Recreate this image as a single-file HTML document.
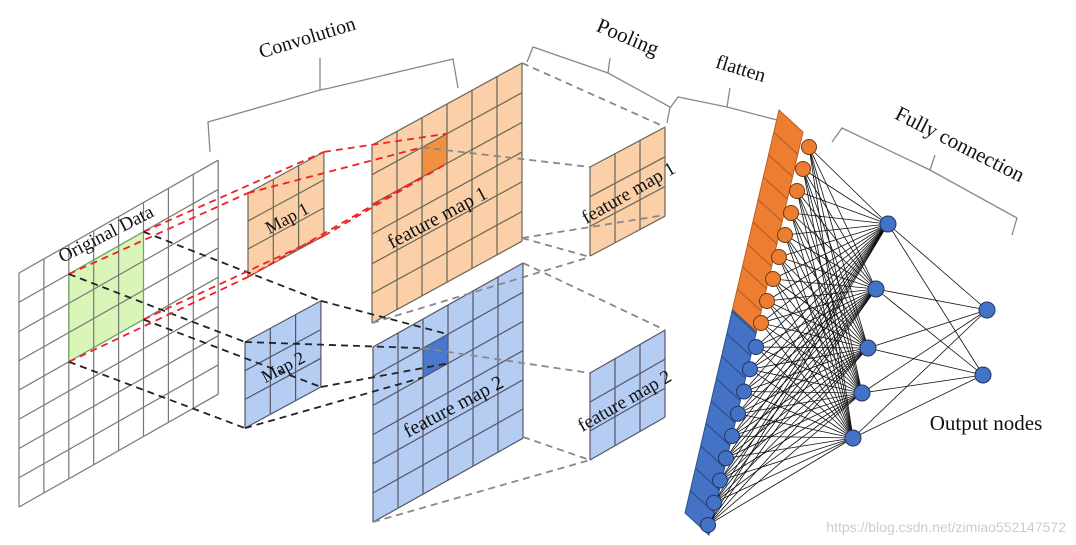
<!DOCTYPE html>
<html><head><meta charset="utf-8"><style>
html,body{margin:0;padding:0;background:#fff;}
svg{display:block;font-family:"Liberation Serif",serif;}
</style></head><body>
<svg id="s" width="1076" height="545" viewBox="0 0 1076 545" xmlns="http://www.w3.org/2000/svg">
<g id="shapes"></g>
<g fill="none" stroke="#888" stroke-width="1.3">
<polyline points="210,152 208,122 320,90 330,88 453,59 458,88"/>
<line x1="320" y1="90" x2="320" y2="58"/>
<polyline points="527,62 533,47 608,73 670,107 667,123"/>
<line x1="608" y1="73" x2="610" y2="58"/>
<polyline points="670,108 678,97 727,107 777,120"/>
<line x1="727" y1="107" x2="730" y2="88"/>
<polyline points="832,142 842,128 930,170 1017,218 1012,235"/>
<line x1="930" y1="170" x2="935" y2="155"/>
</g>
<g id="net"></g>
<g fill="#111" font-size="20">
<text x="307" y="44" text-anchor="middle" transform="rotate(-17 307 37)">Convolution</text>
<text x="628" y="44" text-anchor="middle" font-size="21" transform="rotate(23 628 37)">Pooling</text>
<text x="741" y="75" text-anchor="middle" transform="rotate(17 741 68)">flatten</text>
<text x="960" y="151" text-anchor="middle" font-size="21" transform="rotate(27 960 144)">Fully connection</text>
<text x="986" y="430" text-anchor="middle" font-size="21">Output nodes</text>
<text x="106" y="240" text-anchor="middle" font-size="19" transform="rotate(-27 106 234)">Original Data</text>
<text x="287" y="224" text-anchor="middle" font-size="18" transform="rotate(-28 287 218)">Map 1</text>
<text x="283" y="373" text-anchor="middle" font-size="18" transform="rotate(-28 283 367)">Map 2</text>
<text x="437" y="224" text-anchor="middle" transform="rotate(-28 437 217)">feature map 1</text>
<text x="453" y="413" text-anchor="middle" transform="rotate(-28 453 406)">feature map 2</text>
<text x="628" y="199" text-anchor="middle" font-size="19" transform="rotate(-30 628 192)">feature map 1</text>
<text x="624" y="407" text-anchor="middle" font-size="19" transform="rotate(-30 624 400)">feature map 2</text>
</g>
<text x="1066" y="532" text-anchor="end" font-family="Liberation Sans, sans-serif" font-size="14" fill="#ccc">https://blog.csdn.net/zimiao552147572</text>
</svg>
<script>
const NS="http://www.w3.org/2000/svg";
const G=document.getElementById("shapes"), N=document.getElementById("net");
function el(p,t,a){const e=document.createElementNS(NS,t);for(const k in a)e.setAttribute(k,a[k]);p.appendChild(e);return e;}
function P(tl,c,r,u,v){return [tl[0]+c[0]*u+r[0]*v, tl[1]+c[1]*u+r[1]*v];}
function grid(tl,c,r,nc,nr,fill,stroke,cells){
 const pts=[P(tl,c,r,0,0),P(tl,c,r,nc,0),P(tl,c,r,nc,nr),P(tl,c,r,0,nr)];
 el(G,"polygon",{points:pts.map(p=>p.join(",")).join(" "),fill:fill,stroke:"none"});
 (cells||[]).forEach(([u,v,f])=>{const q=[P(tl,c,r,u,v),P(tl,c,r,u+1,v),P(tl,c,r,u+1,v+1),P(tl,c,r,u,v+1)];
  el(G,"polygon",{points:q.map(p=>p.join(",")).join(" "),fill:f});});
 for(let i=0;i<=nc;i++){const a=P(tl,c,r,i,0),b=P(tl,c,r,i,nr);el(G,"line",{x1:a[0],y1:a[1],x2:b[0],y2:b[1],stroke:stroke,"stroke-width":1.2});}
 for(let j=0;j<=nr;j++){const a=P(tl,c,r,0,j),b=P(tl,c,r,nc,j);el(G,"line",{x1:a[0],y1:a[1],x2:b[0],y2:b[1],stroke:stroke,"stroke-width":1.2});}
}
function dash(a,b,col,w){el(G,"line",{x1:a[0],y1:a[1],x2:b[0],y2:b[1],stroke:col,"stroke-width":w||1.8,"stroke-dasharray":"7,5"});}
const oc=[24.9,-14.1], or=[0,29.25], O=[19,273];
const gc="#d9f5b8";
grid(O,oc,or,8,8,"#fff","#777",[[2,1,gc],[3,1,gc],[4,1,gc],[2,2,gc],[3,2,gc],[4,2,gc],[2,3,gc],[3,3,gc],[4,3,gc]]);
const g1=P(O,oc,or,2,1),g2=P(O,oc,or,5,1),g3=P(O,oc,or,2,4),g4=P(O,oc,or,5,4);
el(G,"polygon",{points:[g1,g2,g4,g3].map(p=>p.join(",")).join(" "),fill:"none",stroke:"#6a6","stroke-width":1});
const m1=[248,193],mc=[25.3,-13.7],mr=[0,28];
const m2=[245,342],m2r=[0,28.7];
const f1=[372,145],fc=[25,-13.67],fr=[0,29.7];
const f2=[373,347],f2c=[25,-14],f2r=[0,29.2];
grid(f1,fc,fr,6,6,"#fbd0a8","#665",[[2,1,"#f0913f"]]);
grid(f2,f2c,f2r,6,6,"#b6cdf3","#556",[[2,1,"#4a78cc"]]);
grid(m1,mc,mr,3,3,"#fbd0a8","#665");
grid(m2,mc,m2r,3,3,"#b6cdf3","#556");
grid([590,167],[25,-13.3],[0,29.7],3,3,"#fbd0a8","#665");
grid([590,373],[25,-14.3],[0,29],3,3,"#b6cdf3","#556");
const M1=[P(m1,mc,mr,0,0),P(m1,mc,mr,3,0),P(m1,mc,mr,0,3),P(m1,mc,mr,3,3)];
const M2=[P(m2,mc,m2r,0,0),P(m2,mc,m2r,3,0),P(m2,mc,m2r,0,3),P(m2,mc,m2r,3,3)];
const C1=[P(f1,fc,fr,2,1),P(f1,fc,fr,3,1),P(f1,fc,fr,2,2),P(f1,fc,fr,3,2)];
const C2=[P(f2,f2c,f2r,2,1),P(f2,f2c,f2r,3,1),P(f2,f2c,f2r,2,2),P(f2,f2c,f2r,3,2)];
[g1,g2,g3,g4].forEach((g,i)=>{dash(g,M1[i],"#e22");dash(g,M2[i],"#222");});
M1.forEach((m,i)=>dash(m,C1[i],"#e22"));
M2.forEach((m,i)=>dash(m,C2[i],"#222"));
const gr="#888";
dash([522,63],[665,127],gr);dash(C1[0],[590,167],gr);dash([522,238],[590,257],gr);dash([372,323],[590,257],gr);
dash([523,263],[665,330],gr);dash(C2[0],[590,373],gr);dash([523,437],[590,460],gr);dash([373,522],[590,460],gr);
dash([522,238],[665,215],gr);
const L0=[779,110],L1=[685,513],off=[24,22],t=0.496;
const Lm=[L0[0]+(L1[0]-L0[0])*t,L0[1]+(L1[1]-L0[1])*t];
const pt=p=>p.join(",");
const add=(p,q)=>[p[0]+q[0],p[1]+q[1]];
el(N,"polygon",{points:[L0,add(L0,off),add(Lm,off),Lm].map(pt).join(" "),fill:"#ed7d31",stroke:"#c0601f"});
el(N,"polygon",{points:[Lm,add(Lm,off),add(L1,off),L1].map(pt).join(" "),fill:"#4472c4",stroke:"#2f528f"});
for(let i=1;i<18;i++){const f=i/18;const a=[L0[0]+(L1[0]-L0[0])*f,L0[1]+(L1[1]-L0[1])*f];const b=add(a,off);
 el(N,"line",{x1:a[0],y1:a[1],x2:b[0],y2:b[1],stroke:i<9?"#b05a20":"#2a4a85","stroke-width":1});}
const inp=[];
for(let i=0;i<9;i++){inp.push([809+(761-809)*i/8,147+(323-147)*i/8,"o"]);}
for(let i=0;i<9;i++){inp.push([756+(708-756)*i/8,347+(525-347)*i/8,"b"]);}
const hid=[[888,224],[876,289],[868,348],[862,393],[853,438]];
const out=[[987,310],[983,375]];
inp.forEach(a=>hid.forEach(h=>el(N,"line",{x1:a[0],y1:a[1],x2:h[0],y2:h[1],stroke:"#111","stroke-width":0.8})));
hid.forEach(a=>out.forEach(h=>el(N,"line",{x1:a[0],y1:a[1],x2:h[0],y2:h[1],stroke:"#111","stroke-width":0.8})));
inp.forEach(a=>el(N,"circle",{cx:a[0],cy:a[1],r:7.5,fill:a[2]=="o"?"#ed7d31":"#4472c4",stroke:a[2]=="o"?"#6b3a10":"#1f3566","stroke-width":1}));
hid.concat(out).forEach(a=>el(N,"circle",{cx:a[0],cy:a[1],r:8,fill:"#4472c4",stroke:"#1f3566","stroke-width":1}));
</script>
</body></html>
